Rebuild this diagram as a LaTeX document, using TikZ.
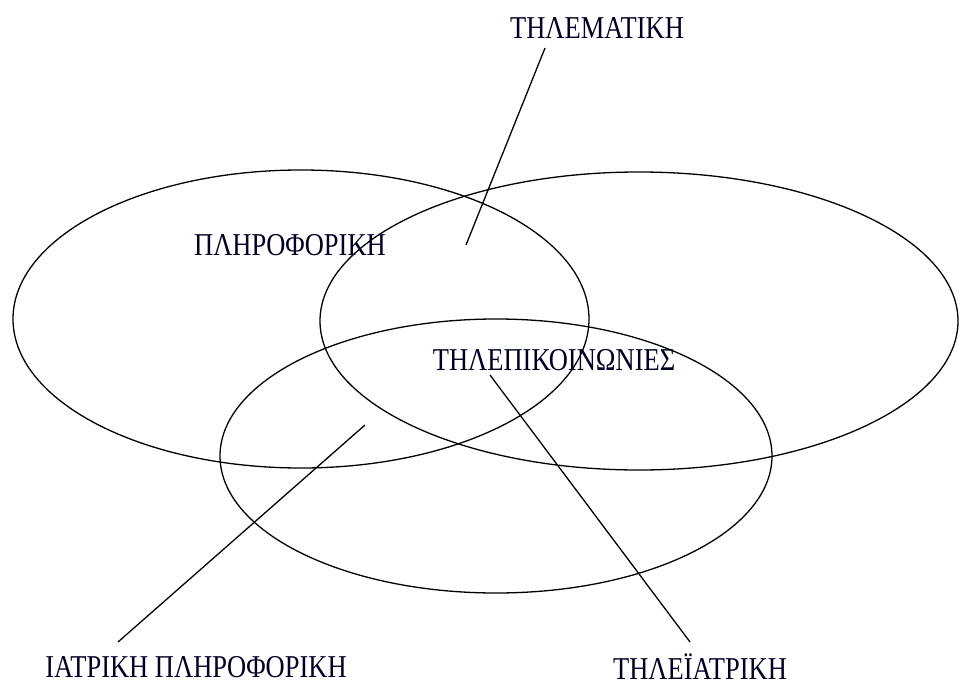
\documentclass[tikz,border=0pt]{standalone}
\usepackage{fontspec}
\usepackage{graphicx}
\setmainfont{Liberation Serif}
\newcommand{\tallt}[1]{\scalebox{1}[1.2]{#1}}
\begin{document}
\begin{tikzpicture}[x=1pt,y=-1pt,
  ell/.style={draw=black,line width=1.3pt},
  lbl/.style={inner sep=0pt,font=\fontsize{26.5}{26.5}\selectfont,text=black!85!blue},
  ptr/.style={draw=black,line width=1.3pt}]
\useasboundingbox[fill=white] (0,0) rectangle (961,688);
\draw[ell] (301,319) ellipse [x radius=288, y radius=149];
\draw[ell] (639,321) ellipse [x radius=319, y radius=149];
\draw[ell] (496,456) ellipse [x radius=276, y radius=137];
\node[lbl] (tel) at (597,28) {\tallt{ΤΗΛΕΜΑΤΙΚΗ}};
\node[lbl] (inf) at (290,245) {\tallt{ΠΛΗΡΟΦΟΡΙΚΗ}};
\node[lbl] (com) at (554,360) {\tallt{ΤΗΛΕΠΙΚΟΙΝΩΝΙΕΣ}};
\node[lbl] (med) at (196,667) {\tallt{ΙΑΤΡΙΚΗ ΠΛΗΡΟΦΟΡΙΚΗ}};
\node[lbl] (tmed) at (700,667) {\tallt{ΤΗΛΕΪΑΤΡΙΚΗ}};
\coordinate (p1a) at (545,48); \coordinate (p1b) at (466,245);
\coordinate (p2a) at (365,425); \coordinate (p2b) at (118,642);
\coordinate (p3a) at (490,375); \coordinate (p3b) at (690,642);
\draw[ptr] (p1a) -- (p1b);
\draw[ptr] (p2a) -- (p2b);
\draw[ptr] (p3a) -- (p3b);
\end{tikzpicture}
\end{document}
